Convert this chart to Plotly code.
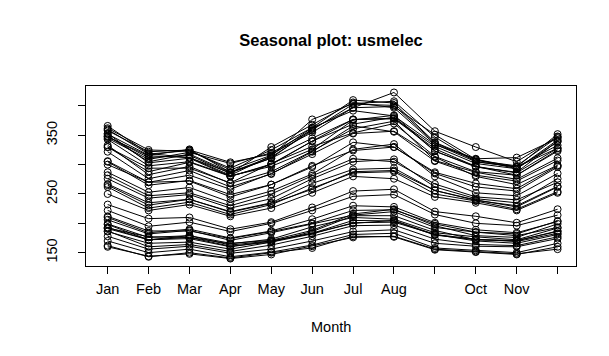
import plotly.graph_objects as go

months = ["Jan", "Feb", "Mar", "Apr", "May", "Jun", "Jul", "Aug", "Sep", "Oct", "Nov", "Dec"]
month_pos = [1, 2, 3, 4, 5, 6, 7, 8, 9, 10, 11, 12]
x_tick_text = ["Jan", "Feb", "Mar", "Apr", "May", "Jun", "Jul", "Aug", "", "Oct", "Nov", ""]
y_tick_vals = [150, 200, 250, 300, 350, 400]
y_tick_text = ["150", "", "250", "", "350", ""]

# Estimated monthly values (billion kWh), one list per year
y1973 = [160, 144, 148, 140, 147, 161, 176, 178, 156, 152, 148, 156]
y1974 = [162, 143, 150, 141, 150, 158, 178, 177, 155, 151, 147, 160]
y1975 = [170, 150, 156, 143, 151, 163, 181, 183, 158, 154, 150, 166]
y1976 = [178, 156, 161, 149, 156, 170, 186, 189, 166, 161, 160, 174]
y1977 = [187, 160, 164, 152, 163, 178, 196, 197, 173, 164, 162, 177]
y1978 = [186, 166, 168, 156, 168, 182, 201, 202, 181, 170, 166, 181]
y1979 = [191, 172, 174, 160, 170, 183, 200, 205, 181, 173, 169, 183]
y1980 = [192, 177, 176, 161, 168, 186, 213, 213, 188, 172, 170, 187]
y1981 = [198, 172, 176, 165, 173, 194, 210, 207, 184, 177, 172, 192]
y1982 = [199, 176, 179, 163, 170, 183, 205, 204, 180, 172, 171, 186]
y1983 = [193, 172, 179, 166, 171, 188, 216, 224, 196, 179, 176, 199]
y1984 = [206, 182, 188, 171, 184, 199, 214, 220, 193, 185, 179, 193]
y1985 = [212, 187, 187, 174, 186, 200, 222, 223, 199, 185, 182, 204]
y1986 = [210, 184, 190, 175, 187, 207, 230, 228, 201, 189, 184, 203]
y1987 = [222, 195, 202, 186, 200, 222, 246, 249, 215, 200, 196, 214]
y1988 = [232, 208, 210, 190, 202, 227, 255, 258, 220, 212, 201, 224]
y1989 = [250, 222, 232, 212, 226, 252, 280, 276, 245, 235, 222, 252]
y1990 = [262, 226, 236, 215, 232, 260, 286, 288, 250, 238, 224, 254]
y1991 = [265, 231, 241, 220, 235, 268, 292, 294, 256, 240, 228, 262]
y1992 = [267, 235, 241, 219, 234, 258, 288, 290, 256, 239, 230, 263]
y1993 = [276, 243, 249, 226, 242, 276, 305, 309, 262, 242, 235, 276]
y1994 = [282, 247, 252, 230, 250, 281, 310, 305, 267, 245, 240, 270]
y1995 = [287, 253, 261, 236, 255, 284, 326, 335, 280, 252, 247, 285]
y1996 = [300, 270, 272, 245, 266, 298, 324, 330, 285, 262, 255, 296]
y1997 = [305, 265, 273, 249, 266, 296, 338, 330, 287, 268, 259, 298]
y1998 = [306, 270, 282, 258, 285, 318, 353, 357, 313, 280, 266, 299]
y1999 = [322, 276, 290, 262, 284, 322, 366, 356, 306, 282, 272, 307]
y2000 = [330, 294, 294, 269, 302, 331, 354, 370, 314, 288, 282, 325]
y2001 = [333, 283, 297, 268, 288, 323, 361, 374, 307, 287, 275, 311]
y2002 = [330, 288, 304, 280, 300, 340, 377, 378, 327, 297, 282, 323]
y2003 = [343, 298, 305, 281, 297, 326, 376, 384, 323, 297, 286, 328]
y2004 = [347, 315, 312, 286, 311, 345, 377, 379, 331, 302, 293, 339]
y2005 = [349, 305, 318, 287, 311, 361, 397, 399, 351, 309, 293, 342]
y2006 = [345, 309, 321, 302, 320, 359, 403, 401, 337, 307, 298, 347]
y2007 = [358, 322, 325, 304, 318, 355, 397, 423, 357, 330, 305, 348]
y2008 = [362, 325, 323, 294, 325, 363, 392, 383, 334, 310, 312, 345]
y2009 = [353, 303, 311, 280, 301, 340, 369, 381, 323, 296, 287, 340]
y2010 = [366, 319, 312, 282, 315, 377, 404, 408, 347, 305, 296, 352]
y2011 = [360, 318, 324, 291, 316, 363, 410, 405, 338, 309, 296, 333]
y2012 = [348, 312, 316, 285, 330, 368, 406, 397, 335, 305, 296, 328]
y2013 = [352, 316, 326, 287, 313, 358, None, None, None, None, None, None]

years = [
    y1973, y1974, y1975, y1976, y1977, y1978, y1979, y1980, y1981, y1982,
    y1983, y1984, y1985, y1986, y1987, y1988, y1989, y1990, y1991, y1992,
    y1993, y1994, y1995, y1996, y1997, y1998, y1999, y2000, y2001, y2002,
    y2003, y2004, y2005, y2006, y2007, y2008, y2009, y2010, y2011, y2012,
    y2013,
]
year_names = [str(1973 + i) for i in range(len(years))]

fig = go.Figure()
for name, vals in zip(year_names, years):
    fig.add_trace(go.Scatter(
        x=month_pos, y=vals, mode="lines+markers", name=name,
        line=dict(color="black", width=1),
        marker=dict(symbol="circle-open", size=7, color="black", line=dict(width=1)),
        showlegend=False,
    ))

font = "Liberation Sans, Arial, sans-serif"
fig.update_layout(
    width=609, height=356,
    margin=dict(l=78, r=41, t=78, b=98),
    paper_bgcolor="white", plot_bgcolor="white",
    font=dict(family=font, size=14.5, color="black"),
    title=dict(text="<b>Seasonal plot: usmelec</b>", x=0.5305, xanchor="center",
               y=1 - 32 / 356, yanchor="middle", yref="container",
               font=dict(family=font, size=16.5, color="black")),
    xaxis=dict(range=[0.47, 12.45], tickmode="array", tickvals=month_pos, ticktext=x_tick_text,
               showgrid=False, zeroline=False, showline=True, mirror=True,
               linecolor="black", linewidth=1, ticks="outside", ticklen=7,
               tickcolor="black", ticklabelstandoff=3,
               tickfont=dict(family=font, size=14.5, color="black")),
    yaxis=dict(range=[127.3, 434], tickmode="array", tickvals=y_tick_vals, ticktext=y_tick_text,
               showgrid=False, zeroline=False, showline=True, mirror=True,
               linecolor="black", linewidth=1, ticks="outside", ticklen=7,
               tickcolor="black", tickangle=-90, ticklabelstandoff=15,
               tickfont=dict(family=font, size=14.5, color="black")),
    annotations=[dict(text="Month", x=0.5, xref="paper", y=-(319 - 258.3) / 180, yref="paper",
                      xanchor="center", yanchor="middle", showarrow=False,
                      font=dict(family=font, size=14.5, color="black"))],
)

fig.write_html("out.html")
